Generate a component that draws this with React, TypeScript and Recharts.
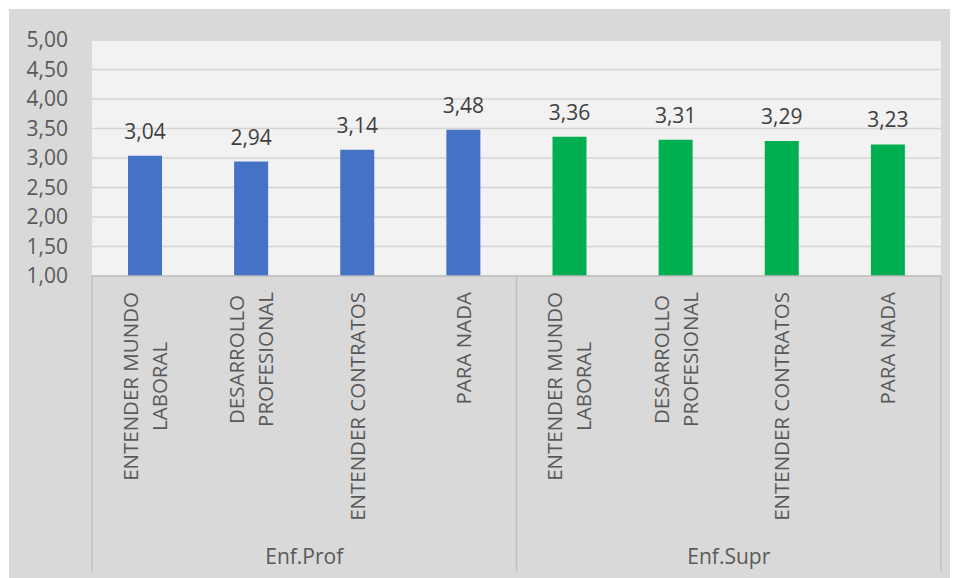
import React from 'react';
import { BarChart, Bar, Cell, XAxis, YAxis, CartesianGrid, LabelList } from 'recharts';

// Categories, grouped in two sets of four
const categories = [
  'ENTENDER MUNDO|LABORAL',
  'DESARROLLO|PROFESIONAL',
  'ENTENDER CONTRATOS',
  'PARA NADA',
  'ENTENDER MUNDO|LABORAL',
  'DESARROLLO|PROFESIONAL',
  'ENTENDER CONTRATOS',
  'PARA NADA',
];
const groups = ['Enf.Prof', 'Enf.Prof', 'Enf.Prof', 'Enf.Prof', 'Enf.Supr', 'Enf.Supr', 'Enf.Supr', 'Enf.Supr'];
const values = [3.04, 2.94, 3.14, 3.48, 3.36, 3.31, 3.29, 3.23];
const groupColors: Record<string, string> = { 'Enf.Prof': '#4472c4', 'Enf.Supr': '#00b050' };
const yTicks = [1, 1.5, 2, 2.5, 3, 3.5, 4, 4.5, 5];

const data = categories.map((c, i) => ({ key: `${i}`, name: c, group: groups[i], value: values[i] }));

const FONT = '"Open Sans", sans-serif';
const fmt = (v: number) => v.toFixed(2).replace('.', ',');

let measureCtx: CanvasRenderingContext2D | null = null;
function textWidth(s: string, size: number) {
  if (!measureCtx) measureCtx = document.createElement('canvas').getContext('2d');
  if (!measureCtx) return s.length * size * 0.6;
  measureCtx.font = `${size}px "Open Sans"`;
  return measureCtx.measureText(s).width;
}

const CategoryTick = (props: any) => {
  const { x, y, index, width } = props;
  const bw = width / data.length;
  const row = data[index];
  const lines = row.name.split('|');
  const size = 20.5;
  const maxW = Math.max(...lines.map((l: string) => textWidth(l, size)));
  const top = y + 16;
  const cy = top + maxW / 2;
  const lineGap = 29;
  const isGroupStart = index === 0 || groups[index] !== groups[index - 1];
  const isLast = index === data.length - 1;
  return (
    <g>
      {lines.map((l: string, i: number) => {
        const lx = x + (i - (lines.length - 1) / 2) * lineGap;
        return (
          <text key={i} x={lx} y={cy} dy="0.36em" textAnchor="middle" fontSize={size} fontFamily={FONT} fill="#595959"
            transform={`rotate(-90, ${lx}, ${cy})`}>{l}</text>
        );
      })}
      {isGroupStart && (
        <>
          <line x1={x - bw / 2} x2={x - bw / 2} y1={y} y2={y + 295} stroke="#bfbfbf" strokeWidth={1.5} />
          <text x={x + 1.5 * bw} y={y + 280} dy="0.36em" textAnchor="middle" fontSize={21} fontFamily={FONT} fill="#595959">{row.group}</text>
        </>
      )}
      {isLast && <line x1={x + bw / 2} x2={x + bw / 2} y1={y} y2={y + 295} stroke="#bfbfbf" strokeWidth={1.5} />}
    </g>
  );
};

export default function App() {
  return (
    <div style={{ paddingTop: 1, paddingLeft: 1 }}>
      <div style={{ width: 942, height: 569, background: '#d9d9d9' }}>
        <BarChart width={942} height={569} data={data} margin={{ top: 31, right: 10, left: 0, bottom: 0 }}>
          <CartesianGrid vertical={false} stroke="#d4d4d4" strokeWidth={1.5} fill="#f2f2f2" />
          <XAxis dataKey="key" height={302} interval={0} tickLine={false} tickSize={0} tickMargin={0}
            axisLine={{ stroke: '#bfbfbf', strokeWidth: 1.5 }} tick={<CategoryTick />} />
          <YAxis width={83} domain={[1, 5]} ticks={yTicks} interval={0} tickFormatter={fmt} axisLine={false} tickLine={false}
            tickMargin={18} tick={{ fontSize: 21, fontFamily: FONT, fill: '#595959' }} />
          <Bar dataKey="value" barSize={34} isAnimationActive={false}>
            {data.map((d) => (
              <Cell key={d.key} fill={groupColors[d.group]} />
            ))}
            <LabelList dataKey="value" position="top" offset={17} formatter={(v: any) => fmt(Number(v))}
              style={{ fontSize: 21, fontFamily: FONT, fill: '#404040' }} />
          </Bar>
        </BarChart>
      </div>
    </div>
  );
}
